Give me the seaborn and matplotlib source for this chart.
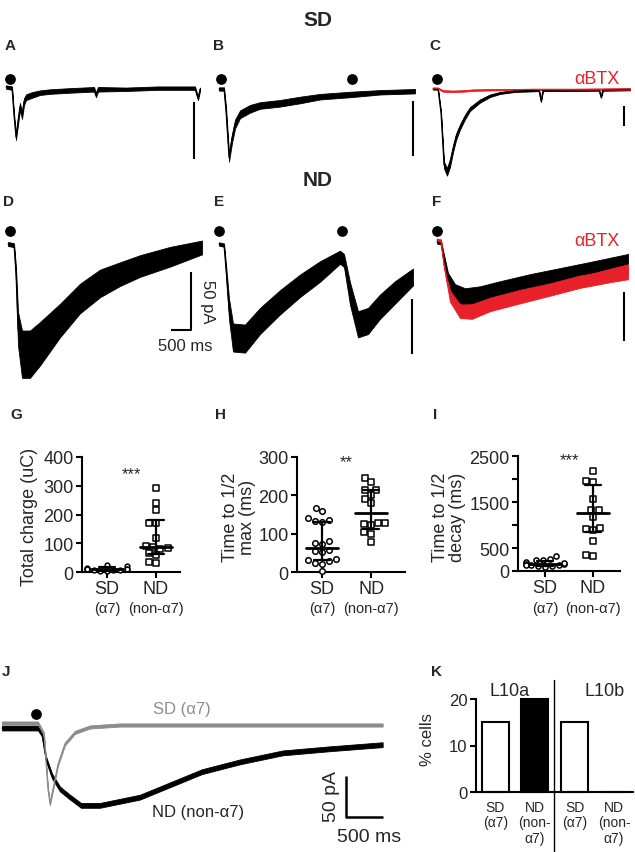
import numpy as np
import pandas as pd
import matplotlib
matplotlib.use("Agg")
import matplotlib.pyplot as plt
from matplotlib.lines import Line2D
from matplotlib.transforms import Affine2D, blended_transform_factory
import seaborn as sns

W, H = 635, 853

# ---- traces: time (ms), mean current (pA), noise half-width (pA)
a_t = [0, 150, 200, 250, 300, 350, 400, 450, 500, 650, 850, 1100, 1600, 2200, 2250, 2300, 3000, 3800, 4650, 4725, 4800, 4850]
a_i = [0, -1, -25, -44, -30, -17, -25, -13, -9, -7, -5, -4, -3, -2, -7, -2, -2, -1, -1, -1, -10, -2]
a_n = [1.5, 1.5, 2, 2.5, 3, 3, 3, 3, 2.5, 2.5, 2, 2, 2, 2, 2, 2, 1.5, 1.5, 1.5, 1.5, 1.5, 1.5]

b_t = [0, 125, 175, 250, 325, 400, 525, 775, 1025, 1525, 2025, 2525, 3275, 4025, 4900]
b_i = [0, 0, -20, -62, -45, -32, -23, -18, -15, -13, -10, -7, -5, -3, -2]
b_n = [1.5, 1.5, 4, 4, 4, 4, 3.5, 3.5, 3, 3, 3, 2.5, 2.5, 2, 2]

cb_t = [0, 125, 200, 275, 350, 425, 500, 575, 675, 800, 925, 1175, 1425, 1675, 2050, 2650, 2700, 2750, 4150, 4200, 4250, 4925]
cb_i = [0, 0, -60, -190, -207, -185, -150, -120, -95, -70, -50, -30, -17, -10, -5, -3, -30, -3, -2, -20, -2, -1]
cb_n = [2, 2, 6, 10, 12, 12, 10, 10, 8, 7, 6, 5, 4, 3, 3, 3, 3, 3, 3, 3, 3, 3]
cr_t = [0, 125, 250, 500, 750, 1000, 1500, 2500, 3500, 4925]
cr_i = [2, 2, -5, -6, -5, -3, -2, -1, -1, 0]
cr_n = [2.5, 2.5, 3, 3, 3, 3, 2.5, 2.5, 2.5, 2.5]

d_t = [0, 150, 200, 250, 350, 550, 800, 1300, 1800, 2300, 2800, 3300, 4050, 4850]
d_i = [0, -1, -26, -73, -95, -95, -86, -66, -47, -34, -26, -19, -11, -3]
d_n = [2, 2, 7, 17, 24, 24, 22, 17, 15, 14, 12, 11, 10, 7]

e_t = [0, 125, 175, 250, 350, 650, 1025, 1525, 2025, 2525, 3025, 3125, 3275, 3475, 3725, 4025, 4400, 4850]
e_i = [0, -1, -23, -59, -85, -86, -70, -53, -38, -25, -12, -15, -45, -73, -70, -57, -44, -30]
e_n = [1.8, 1.8, 5, 11, 15, 15, 14, 13, 12, 11, 7, 7, 12, 14, 14, 13, 12, 9]

fb_t = [0, 100, 175, 275, 450, 700, 1075, 1575, 2325, 3075, 3825, 4775]
fb_i = [0, -1, -17, -38, -51, -56, -54, -48, -40, -33, -26, -17]
fb_n = [2, 2, 5, 8, 10, 11, 11, 10, 9, 8, 7, 6]
fr_t = [0, 100, 175, 325, 575, 875, 1325, 2075, 2825, 3575, 4325, 4775]
fr_i = [2, 1, -22, -53, -68, -68, -61, -53, -46, -38, -33, -30]
fr_n = [2, 2, 6, 10, 12, 13, 12, 12, 11, 11, 10, 10]

js_t = [0, 486, 567, 621, 648, 689, 756, 851, 986, 1188, 1593, 5144]
js_i = [2.4, 2.4, -11, -78, -96, -78, -48, -23, -9, -2.4, 0, 0]
js_n = [2.4, 2.4, 2.4, 2.4, 2.4, 2.4, 2.4, 2.4, 2.4, 2.4, 2.4, 2.4]
jn_t = [0, 486, 540, 594, 675, 783, 905, 1067, 1323, 1863, 2700, 3213, 3794, 4428, 5144]
jn_i = [-3.7, -3.7, -11, -41, -62, -78, -87, -98, -98, -88, -57, -45, -34, -29, -24]
jn_n = [3.7] * 15

# stimulus times (ms)
stim_a, stim_b, stim_c = [100], [50, 3325], [100]
stim_d, stim_e, stim_f = [50], [0, 3075], [0]
stim_j = [459]

# ---- scatter panels
groups = ["SD", "ND"]
sub_labels = ["(α7)", "(non-α7)"]
g_sd = [5, 10, 8, 15, 20, 12, 6, 3, 10, 25, 8, 12]
g_nd = [292, 240, 214, 170, 170, 120, 88, 84, 90, 80, 66, 60, 35, 33]
g_mid, g_low, g_high = [10, 88], [5, 62], [16, 180]

h_sd = [167, 158, 136, 131, 132, 142, 76, 80, 72, 56, 52, 57, 31, 22, 24, 28, 33, 2]
h_nd = [245, 235, 215, 213, 202, 191, 180, 129, 122, 124, 129, 104, 98, 78]
h_mid, h_low, h_high = [63, 155], [31, 113], [131, 213]

i_sd = [320, 230, 270, 240, 200, 160, 140, 120, 110, 100, 90, 150, 130, 180]
i_nd = [2170, 1960, 1940, 1560, 1330, 1330, 1180, 930, 890, 910, 660, 330, 350]
i_mid, i_low, i_high = [145, 1270], [110, 840], [210, 1880]

# ---- bar panel
k_keys = ["L10a SD", "L10a ND", "L10b SD", "L10b ND"]
k_labels = ["SD\n(α7)", "ND\n(non-\nα7)", "SD\n(α7)", "ND\n(non-\nα7)"]
k_vals = [15, 20, 15, 0]

sns.set_style("ticks")
plt.rcParams["font.family"] = ["Liberation Sans", "DejaVu Sans"]

fig = plt.figure(figsize=(W / 100, H / 100), dpi=100)
PX = Affine2D().scale(1 / W, -1 / H).translate(0, 1) + fig.transFigure
RED = "#e8202a"
GRAY = "#8c8c8c"


def px_axes(left, top, right, bottom):
    return fig.add_axes([left / W, 1 - bottom / H, (right - left) / W, (bottom - top) / H])


def px_line(xs, ys, lw=1.5):
    fig.add_artist(Line2D(xs, ys, transform=PX, color="black", lw=lw, solid_capstyle="butt"))


def px_text(x, y, s, **kw):
    fig.text(x, y, s, transform=PX, **kw)


def trace_axes(box, x0, y0, ms_px, pa_px):
    left, top, right, bottom = box
    ax = px_axes(left, top, right, bottom)
    ax.set_xlim((left - x0) * ms_px, (right - x0) * ms_px)
    ax.set_ylim((y0 - bottom) * pa_px, (y0 - top) * pa_px)
    ax.axis("off")
    return ax


def draw_trace(ax, t, i, n, color, spread=1.0, alpha=1.0):
    t, i, n = (np.asarray(v, float) for v in (t, i, n))
    ax.fill_between(t, i - spread * n, i + spread * n, color=color, lw=0.6,
                    edgecolor=color, alpha=alpha)
    sns.lineplot(x=t, y=i, ax=ax, color=color, lw=0.8, estimator=None)


def stim(ax, times, y):
    ax.scatter(times, [y] * len(times), s=45, color="black", clip_on=False, zorder=5)


# row 1 (SD)
pa = 50 / 57
ax = trace_axes((0, 60, 212, 215), 6, 88, 25, pa)
draw_trace(ax, a_t, a_i, a_n, "black")
stim(ax, stim_a, 8 * pa)

pa = 50 / 55
ax = trace_axes((212, 60, 425, 215), 219, 90, 25, pa)
draw_trace(ax, b_t, b_i, b_n, "black")
stim(ax, stim_b, 10 * pa)

pa = 2.5
ax = trace_axes((425, 60, 635, 215), 433, 90, 25, pa)
draw_trace(ax, cb_t, cb_i, cb_n, "black", spread=0.8)
draw_trace(ax, cr_t, cr_i, cr_n, RED, spread=0.6)
stim(ax, stim_c, 10 * pa)

# row 2 (ND)
pa = 50 / 58
ax = trace_axes((0, 215, 212, 410), 8, 245, 25, pa)
draw_trace(ax, d_t, d_i, d_n, "black", spread=0.85)
stim(ax, stim_d, 13 * pa)

pa = 50 / 55
ax = trace_axes((212, 215, 425, 410), 219, 245, 25, pa)
draw_trace(ax, e_t, e_i, e_n, "black", spread=0.85)
stim(ax, stim_e, 13 * pa)

pa = 50 / 49
ax = trace_axes((425, 215, 635, 410), 437, 243, 25, pa)
draw_trace(ax, fr_t, fr_i, fr_n, RED, spread=0.8)
draw_trace(ax, fb_t, fb_i, fb_n, "black", spread=0.8)
draw_trace(ax, fr_t, fr_i, fr_n, RED, spread=0.35)
stim(ax, stim_f, 11 * pa)

# panel J
pa = 50 / 41
ax = trace_axes((0, 690, 400, 853), 2, 726, 500 / 37, pa)
draw_trace(ax, jn_t, jn_i, jn_n, "black", spread=0.8)
draw_trace(ax, js_t, js_i, js_n, GRAY, spread=0.8)
stim(ax, stim_j, 11 * pa)

# scale bars
for x, y1, y2 in [(194, 103, 160), (413, 102, 157), (624, 107, 127),
                  (412, 300, 355), (624, 293, 342)]:
    px_line([x, x], [y1, y2])
px_line([191, 191, 171], [273, 331, 331])
px_text(208, 302, "50 pA", rotation=270, ha="center", va="center", fontsize=12)
px_text(185, 347, "500 ms", ha="center", va="center", fontsize=12)
px_line([346, 346, 383], [777, 818, 818], lw=1.8)
px_text(331, 797, "50 pA", rotation=90, ha="center", va="center", fontsize=14)
px_text(369, 838, "500 ms", ha="center", va="center", fontsize=14)

# headings and labels
px_text(318, 20, "SD", ha="center", va="center", fontsize=15, fontweight="bold")
px_text(318, 180, "ND", ha="center", va="center", fontsize=15, fontweight="bold")
for s, x, y in [("A", 10, 46), ("B", 219, 46), ("C", 435, 46), ("D", 8, 202), ("E", 219, 202),
                ("F", 437, 202), ("G", 16, 415), ("H", 221, 415), ("I", 435, 415),
                ("J", 6, 672), ("K", 437, 672)]:
    px_text(x, y, s, ha="center", va="center", fontsize=11, fontweight="bold")
px_text(597, 80, "αBTX", ha="center", va="center", fontsize=13, color=RED)
px_text(597, 242, "αBTX", ha="center", va="center", fontsize=13, color=RED)
px_text(182, 710, "SD (α7)", ha="center", va="center", fontsize=12, color=GRAY)
px_text(198, 813, "ND (non-α7)", ha="center", va="center", fontsize=12)


def scatter_panel(box, sd, nd, mid, low, high, xlim, ylim, yticks, ylabels, ylabel, ylabel_x,
                  stars, star_y, msize=4.0):
    ax = px_axes(*box)
    order = groups
    sns.swarmplot(data=pd.DataFrame({"g": "SD", "v": sd}), x="g", y="v", order=order, ax=ax,
                  marker="o", size=msize, color="white", edgecolor="black", linewidth=1.1)
    sns.swarmplot(data=pd.DataFrame({"g": "ND", "v": nd}), x="g", y="v", order=order, ax=ax,
                  marker="s", size=4.0, color="white", edgecolor="black", linewidth=1.1)
    for c in ax.collections:
        c.set_clip_on(False)
    for k in range(2):
        ax.plot([k - 0.33, k + 0.33], [mid[k]] * 2, color="black", lw=2, zorder=4)
        ax.plot([k, k], [low[k], high[k]], color="black", lw=1.6, zorder=4)
        ax.plot([k - 0.17, k + 0.17], [low[k]] * 2, color="black", lw=1.6, zorder=4)
        ax.plot([k - 0.17, k + 0.17], [high[k]] * 2, color="black", lw=1.6, zorder=4)
    ax.set_xlim(*xlim)
    ax.set_ylim(*ylim)
    ax.set_yticks(yticks, labels=ylabels)
    ax.set_xticks([0, 1], labels=groups)
    ax.set_xlabel("")
    ax.set_ylabel("")
    sns.despine(ax=ax)
    for sp in ("left", "bottom"):
        ax.spines[sp].set_linewidth(1.5)
        ax.spines[sp].set_color("black")
    ax.tick_params(axis="both", length=4, width=1.5, labelsize=13, pad=2, color="black")
    tr = blended_transform_factory(ax.transData, PX)
    for k, s in enumerate(sub_labels):
        ax.text(k, 609, s, transform=tr, ha="center", va="center", fontsize=10.5)
    ax.text(0.5, star_y, stars, ha="center", va="center", fontsize=12)
    px_text(ylabel_x, 517, ylabel, rotation=90, ha="center", va="center", fontsize=13,
            multialignment="center", linespacing=0.95)
    return ax


scatter_panel((82, 458, 180, 573), g_sd, g_nd, g_mid, g_low, g_high, (-0.51, 1.49), (0, 400),
              [0, 100, 200, 300, 400], ["0", "100", "200", "300", "400"],
              "Total charge (uC)", 30, "***", 341, msize=3.4)
scatter_panel((297, 458, 405, 573), h_sd, h_nd, h_mid, h_low, h_high, (-0.51, 1.69), (0, 300),
              [0, 100, 200, 300], ["0", "100", "200", "300"],
              "Time to 1/2\nmax (ms)", 239, "**", 287)
scatter_panel((518, 457, 620, 572), i_sd, i_nd, i_mid, i_low, i_high, (-0.56, 1.56), (0, 2500),
              [0, 500, 1000, 1500, 2000, 2500], ["0", "500", "", "1500", "", "2500"],
              "Time to 1/2\ndecay (ms)", 449, "***", 2413, msize=3.7)

# panel K
ax = px_axes(476, 700, 633, 793)
sns.barplot(x=k_keys, y=k_vals, hue=k_keys, order=k_keys, hue_order=k_keys,
            palette=dict(zip(k_keys, ["white", "black", "white", "white"])),
            edgecolor="black", linewidth=1.5, width=0.68, legend=False, ax=ax)
for p in ax.patches:
    p.set_clip_on(False)
ax.set_xlim(-0.49, 3.48)
ax.set_ylim(0, 20)
ax.set_yticks([0, 10, 20])
ax.set_xticks(range(4), labels=k_labels)
ax.set_xlabel("")
ax.set_ylabel("")
sns.despine(ax=ax)
for sp in ("left", "bottom"):
    ax.spines[sp].set_linewidth(1.5)
    ax.spines[sp].set_color("black")
ax.tick_params(axis="y", length=4, width=1.5, labelsize=12, pad=2, color="black")
ax.tick_params(axis="x", length=0, labelsize=10, pad=6)
for lab in ax.get_xticklabels():
    lab.set_linespacing(1.1)
ax.plot([1.48, 1.48], [24, -13], color="black", lw=1, clip_on=False)
px_text(428, 740, "% cells", rotation=90, ha="center", va="center", fontsize=12)
px_text(510, 696, "L10a", ha="center", va="baseline", fontsize=13)
px_text(605, 696, "L10b", ha="center", va="baseline", fontsize=13)

fig.savefig("out.png", dpi=100)
